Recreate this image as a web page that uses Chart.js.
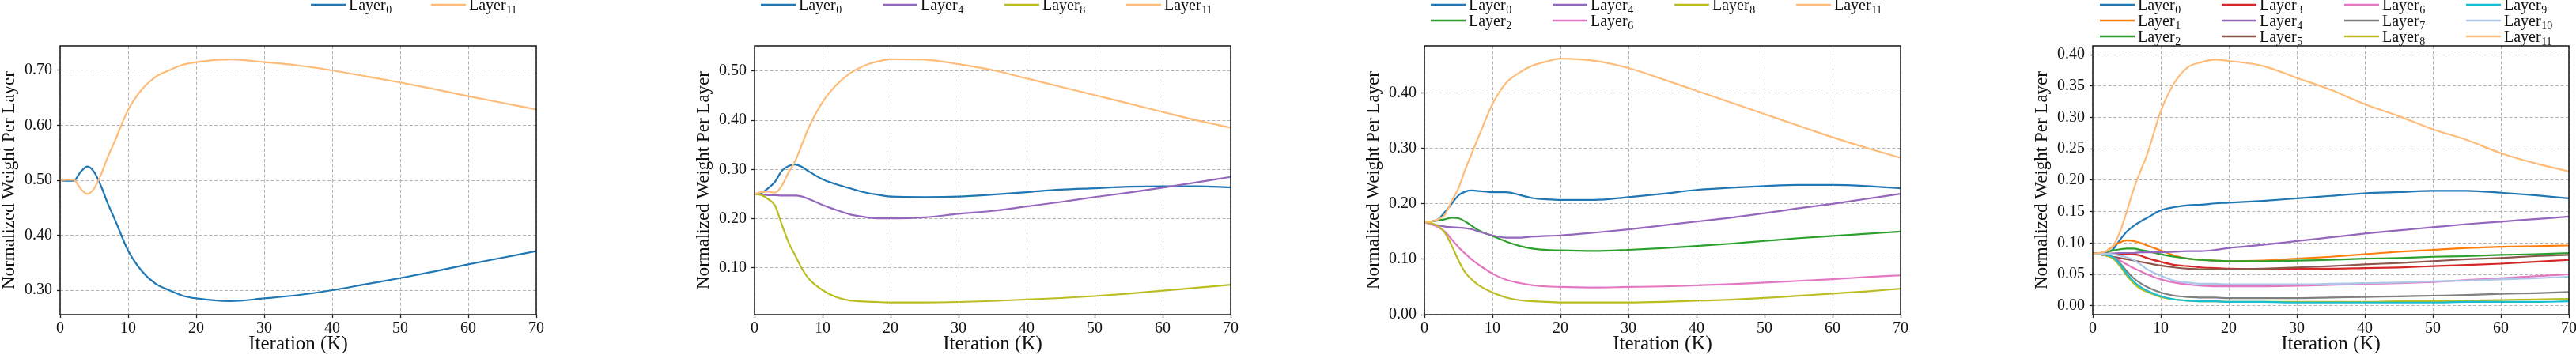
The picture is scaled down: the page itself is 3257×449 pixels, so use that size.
<!DOCTYPE html>
<html>
<head>
<meta charset="utf-8">
<title>Normalized weight per layer</title>
<script src="https://cdn.jsdelivr.net/npm/chart.js@4.4.1/dist/chart.umd.min.js"></script>
<style>
  html, body { margin: 0; padding: 0; background: #fff; width: 3257px; height: 449px; overflow: hidden; }
  .panel { position: absolute; top: 0; }
</style>
</head>
<body>
<canvas id="panel1" class="panel" style="left:0px"></canvas>
<canvas id="panel2" class="panel" style="left:878px"></canvas>
<canvas id="panel3" class="panel" style="left:1725px"></canvas>
<canvas id="panel4" class="panel" style="left:2570px"></canvas>
<script>
// Iterations (K) at which the curves were read
const iterK = [0, 1, 2, 3, 4, 5, 6, 7, 8, 10, 12, 14, 16, 18, 20, 25, 30, 35, 40, 45, 50, 55, 60, 65, 70];
const xTicks = [0, 10, 20, 30, 40, 50, 60, 70];

// Panel 1: 2 layers
const p1Layers = [0, 11];
const p1Layer0  = [0.500, 0.499, 0.499, 0.515, 0.525, 0.515, 0.490, 0.458, 0.430, 0.372, 0.335, 0.312, 0.300, 0.290, 0.285, 0.280, 0.285, 0.291, 0.300, 0.311, 0.322, 0.334, 0.347, 0.359, 0.371];
const p1Layer11 = [0.500, 0.501, 0.501, 0.485, 0.475, 0.485, 0.510, 0.542, 0.570, 0.628, 0.665, 0.688, 0.700, 0.710, 0.715, 0.720, 0.715, 0.709, 0.700, 0.689, 0.678, 0.666, 0.653, 0.641, 0.629];
const p1YTicks = [0.30, 0.40, 0.50, 0.60, 0.70];

// Panel 2: 4 layers
const p2Layers = [0, 4, 8, 11];
const p2Layer0  = [0.250, 0.252, 0.262, 0.275, 0.297, 0.307, 0.310, 0.305, 0.296, 0.280, 0.270, 0.262, 0.254, 0.249, 0.245, 0.244, 0.245, 0.249, 0.254, 0.259, 0.262, 0.265, 0.266, 0.266, 0.264];
const p2Layer4  = [0.250, 0.249, 0.248, 0.248, 0.247, 0.247, 0.247, 0.245, 0.240, 0.228, 0.218, 0.209, 0.204, 0.201, 0.201, 0.203, 0.210, 0.216, 0.225, 0.234, 0.244, 0.253, 0.263, 0.274, 0.285];
const p2Layer8  = [0.250, 0.248, 0.240, 0.227, 0.189, 0.152, 0.125, 0.098, 0.078, 0.055, 0.041, 0.034, 0.032, 0.031, 0.030, 0.030, 0.031, 0.033, 0.036, 0.039, 0.043, 0.048, 0.054, 0.060, 0.066];
const p2Layer11 = [0.250, 0.254, 0.255, 0.253, 0.267, 0.294, 0.318, 0.352, 0.386, 0.437, 0.471, 0.495, 0.510, 0.519, 0.524, 0.523, 0.514, 0.502, 0.485, 0.468, 0.451, 0.434, 0.417, 0.400, 0.385];
const p2YTicks = [0.10, 0.20, 0.30, 0.40, 0.50];

// Panel 3: 6 layers
const p3Layers = [0, 2, 4, 6, 8, 11];
const p3Layer0  = [0.167, 0.168, 0.172, 0.185, 0.200, 0.215, 0.222, 0.224, 0.223, 0.221, 0.221, 0.216, 0.210, 0.208, 0.207, 0.207, 0.212, 0.218, 0.225, 0.229, 0.232, 0.234, 0.234, 0.232, 0.228];
const p3Layer2  = [0.167, 0.168, 0.170, 0.172, 0.175, 0.174, 0.168, 0.160, 0.152, 0.142, 0.132, 0.124, 0.119, 0.117, 0.116, 0.115, 0.117, 0.120, 0.124, 0.128, 0.133, 0.138, 0.142, 0.146, 0.150];
const p3Layer4  = [0.167, 0.164, 0.161, 0.159, 0.158, 0.157, 0.156, 0.154, 0.150, 0.143, 0.139, 0.139, 0.141, 0.142, 0.143, 0.148, 0.154, 0.161, 0.168, 0.175, 0.183, 0.192, 0.200, 0.209, 0.218];
const p3Layer6  = [0.167, 0.163, 0.158, 0.150, 0.136, 0.122, 0.110, 0.099, 0.090, 0.074, 0.063, 0.057, 0.053, 0.051, 0.050, 0.049, 0.050, 0.051, 0.053, 0.055, 0.058, 0.061, 0.064, 0.068, 0.071];
const p3Layer8  = [0.167, 0.165, 0.160, 0.148, 0.125, 0.098, 0.076, 0.063, 0.053, 0.040, 0.031, 0.026, 0.024, 0.023, 0.022, 0.022, 0.022, 0.023, 0.025, 0.027, 0.030, 0.034, 0.038, 0.042, 0.047];
const p3Layer11 = [0.167, 0.168, 0.172, 0.180, 0.205, 0.228, 0.262, 0.292, 0.322, 0.380, 0.418, 0.437, 0.450, 0.457, 0.462, 0.458, 0.445, 0.425, 0.404, 0.383, 0.362, 0.341, 0.320, 0.301, 0.283];
const p3YTicks = [0.00, 0.10, 0.20, 0.30, 0.40];

// Panel 4: all 12 layers
const p4Layers = [0, 1, 2, 3, 4, 5, 6, 7, 8, 9, 10, 11];
const p4Layer0  = [0.083, 0.084, 0.085, 0.090, 0.105, 0.118, 0.127, 0.134, 0.140, 0.152, 0.157, 0.160, 0.161, 0.163, 0.164, 0.167, 0.171, 0.175, 0.179, 0.181, 0.183, 0.183, 0.180, 0.176, 0.171];
const p4Layer1  = [0.083, 0.084, 0.087, 0.095, 0.101, 0.104, 0.103, 0.100, 0.096, 0.088, 0.080, 0.075, 0.073, 0.072, 0.071, 0.072, 0.075, 0.078, 0.082, 0.086, 0.089, 0.092, 0.094, 0.095, 0.096];
const p4Layer2  = [0.083, 0.084, 0.086, 0.088, 0.090, 0.091, 0.091, 0.089, 0.087, 0.082, 0.078, 0.075, 0.073, 0.072, 0.071, 0.071, 0.072, 0.073, 0.075, 0.076, 0.078, 0.079, 0.081, 0.082, 0.084];
const p4Layer3  = [0.083, 0.083, 0.083, 0.083, 0.083, 0.083, 0.082, 0.080, 0.076, 0.070, 0.065, 0.063, 0.061, 0.060, 0.059, 0.058, 0.059, 0.059, 0.060, 0.061, 0.063, 0.065, 0.067, 0.070, 0.073];
const p4Layer4  = [0.083, 0.083, 0.083, 0.083, 0.084, 0.084, 0.084, 0.085, 0.085, 0.085, 0.086, 0.087, 0.087, 0.089, 0.092, 0.097, 0.103, 0.109, 0.115, 0.120, 0.125, 0.130, 0.134, 0.138, 0.142];
const p4Layer5  = [0.083, 0.082, 0.080, 0.078, 0.076, 0.074, 0.072, 0.070, 0.068, 0.064, 0.061, 0.059, 0.058, 0.058, 0.058, 0.059, 0.061, 0.063, 0.066, 0.068, 0.071, 0.074, 0.076, 0.079, 0.081];
const p4Layer6  = [0.083, 0.082, 0.080, 0.077, 0.072, 0.066, 0.060, 0.055, 0.050, 0.042, 0.037, 0.034, 0.032, 0.031, 0.031, 0.031, 0.032, 0.033, 0.035, 0.036, 0.038, 0.041, 0.044, 0.047, 0.050];
const p4Layer7  = [0.083, 0.082, 0.080, 0.077, 0.068, 0.055, 0.044, 0.036, 0.030, 0.021, 0.016, 0.014, 0.013, 0.013, 0.012, 0.012, 0.012, 0.013, 0.014, 0.015, 0.016, 0.017, 0.019, 0.020, 0.022];
const p4Layer8  = [0.083, 0.082, 0.080, 0.075, 0.063, 0.048, 0.036, 0.027, 0.022, 0.014, 0.010, 0.008, 0.007, 0.007, 0.006, 0.006, 0.006, 0.006, 0.006, 0.007, 0.007, 0.008, 0.009, 0.010, 0.011];
const p4Layer9  = [0.083, 0.082, 0.081, 0.077, 0.066, 0.051, 0.039, 0.030, 0.024, 0.015, 0.010, 0.008, 0.007, 0.007, 0.006, 0.006, 0.005, 0.005, 0.005, 0.005, 0.005, 0.006, 0.006, 0.006, 0.007];
const p4Layer10 = [0.083, 0.083, 0.083, 0.082, 0.080, 0.077, 0.073, 0.066, 0.058, 0.048, 0.040, 0.037, 0.035, 0.035, 0.034, 0.034, 0.034, 0.035, 0.036, 0.037, 0.039, 0.040, 0.042, 0.044, 0.046];
const p4Layer11 = [0.083, 0.084, 0.087, 0.095, 0.118, 0.150, 0.185, 0.214, 0.241, 0.310, 0.355, 0.380, 0.388, 0.392, 0.390, 0.382, 0.363, 0.344, 0.321, 0.302, 0.281, 0.264, 0.243, 0.227, 0.214];
const p4YTicks = [0.00, 0.05, 0.10, 0.15, 0.20, 0.25, 0.30, 0.35, 0.40];

// Colour per layer (matplotlib tab10, plus tab20 light shades for 10 and 11)
const layerColors = ['#1f77b4', '#ff7f0e', '#2ca02c', '#d62728', '#9467bd', '#8c564b',
                     '#e377c2', '#7f7f7f', '#bcbd22', '#17becf', '#aec7e8', '#ffbb78'];

const FONT = "'Liberation Serif', 'Times New Roman', serif";
const INK = '#111111';

// Legend laid out like matplotlib's ncol grid (filled column by column)
const gridLegend = {
    id: 'gridLegend',
    afterDraw(chart, args, opts) {
        const { ctx, chartArea } = chart;
        const sets = chart.data.datasets;
        const ncol = opts.cols.length;
        const nrows = Math.ceil(sets.length / ncol);
        const fullCols = sets.length % ncol || ncol;
        let idx = 0;
        ctx.save();
        for (let c = 0; c < ncol; c++) {
            const inCol = c < fullCols ? nrows : nrows - 1;
            for (let r = 0; r < inCol; r++, idx++) {
                const ds = sets[idx];
                const x = chartArea.left + opts.cols[c];
                const y = 6 + r * 20;
                ctx.strokeStyle = ds.borderColor;
                ctx.lineWidth = 2.5;
                ctx.beginPath();
                ctx.moveTo(x, y);
                ctx.lineTo(x + 44, y);
                ctx.stroke();
                ctx.fillStyle = INK;
                ctx.textBaseline = 'alphabetic';
                ctx.textAlign = 'left';
                ctx.font = '20px ' + FONT;
                ctx.fillText('Layer', x + 48, y + 7);
                const w = ctx.measureText('Layer').width;
                ctx.font = '14px ' + FONT;
                ctx.fillText(String(ds.layer), x + 48 + w + 0.5, y + 10.5);
            }
        }
        ctx.restore();
    }
};

// Full box around the plot area
const frameBox = {
    id: 'frameBox',
    afterDraw(chart) {
        const { ctx, chartArea } = chart;
        ctx.save();
        ctx.strokeStyle = '#222222';
        ctx.lineWidth = 1.6;
        ctx.strokeRect(chartArea.left, chartArea.top, chartArea.right - chartArea.left, chartArea.bottom - chartArea.top);
        ctx.restore();
    }
};

function makePanel(id, layers, series, yMin, yMax, yTicks, legendCols) {
    const canvas = document.getElementById(id);
    canvas.width = 708;
    canvas.height = 449;

    const datasets = layers.map((layer, i) => ({
        label: 'Layer' + layer,
        layer: layer,
        data: iterK.map((k, j) => ({ x: k, y: series[i][j] })),
        borderColor: layerColors[layer],
        backgroundColor: layerColors[layer],
        borderWidth: 2.2,
        pointRadius: 0,
        cubicInterpolationMode: 'monotone',
        fill: false,
        order: layers.length - i
    }));

    const gridOpts = {
        color: '#b4b4b4',
        lineWidth: 1,
        tickLength: 4,
        tickColor: '#222222',
        tickWidth: 1.3
    };

    new Chart(canvas, {
        type: 'line',
        data: { datasets },
        options: {
            responsive: false,
            animation: false,
            devicePixelRatio: 1,
            layout: { padding: { top: 58, right: 30, bottom: 0, left: 0 } },
            plugins: {
                legend: { display: false },
                tooltip: { enabled: false },
                gridLegend: { cols: legendCols }
            },
            scales: {
                x: {
                    type: 'linear',
                    min: 0,
                    max: 70,
                    afterBuildTicks: (s) => { s.ticks = xTicks.map(v => ({ value: v })); },
                    afterFit: (s) => { s.height = 51; s.paddingLeft = 0; s.paddingRight = 0; },
                    grid: gridOpts,
                    border: { display: false, dash: [4, 2.5] },
                    ticks: {
                        color: INK,
                        padding: 2,
                        maxRotation: 0,
                        autoSkip: false,
                        font: { family: FONT, size: 20 }
                    },
                    title: {
                        display: true,
                        text: 'Iteration (K)',
                        color: INK,
                        padding: 0,
                        font: { family: FONT, size: 25, lineHeight: 1.1 }
                    }
                },
                y: {
                    type: 'linear',
                    min: yMin,
                    max: yMax,
                    afterBuildTicks: (s) => { s.ticks = yTicks.map(v => ({ value: v })); },
                    afterFit: (s) => { s.width = 76; s.paddingTop = 0; s.paddingBottom = 0; },
                    grid: gridOpts,
                    border: { display: false, dash: [4, 2.5] },
                    ticks: {
                        color: INK,
                        padding: 6,
                        font: { family: FONT, size: 20 },
                        callback: (v) => Number(v).toFixed(2)
                    },
                    title: {
                        display: true,
                        text: 'Normalized Weight Per Layer',
                        color: INK,
                        padding: 0,
                        font: { family: FONT, size: 23, lineHeight: 1.0 }
                    }
                }
            }
        },
        plugins: [gridLegend, frameBox]
    });
}

makePanel('panel1', p1Layers, [p1Layer0, p1Layer11], 0.2554, 0.7446, p1YTicks, [317, 469]);
makePanel('panel2', p2Layers, [p2Layer0, p2Layer4, p2Layer8, p2Layer11], 0.0053, 0.551, p2YTicks, [8, 162, 316, 470]);
makePanel('panel3', p3Layers, [p3Layer0, p3Layer2, p3Layer4, p3Layer6, p3Layer8, p3Layer11], 0.0, 0.485, p3YTicks, [8, 162, 316, 470]);
makePanel('panel4', p4Layers, [p4Layer0, p4Layer1, p4Layer2, p4Layer3, p4Layer4, p4Layer5,
                                p4Layer6, p4Layer7, p4Layer8, p4Layer9, p4Layer10, p4Layer11],
          -0.0142, 0.4139, p4YTicks, [9, 163, 318, 472]);
</script>
</body>
</html>
